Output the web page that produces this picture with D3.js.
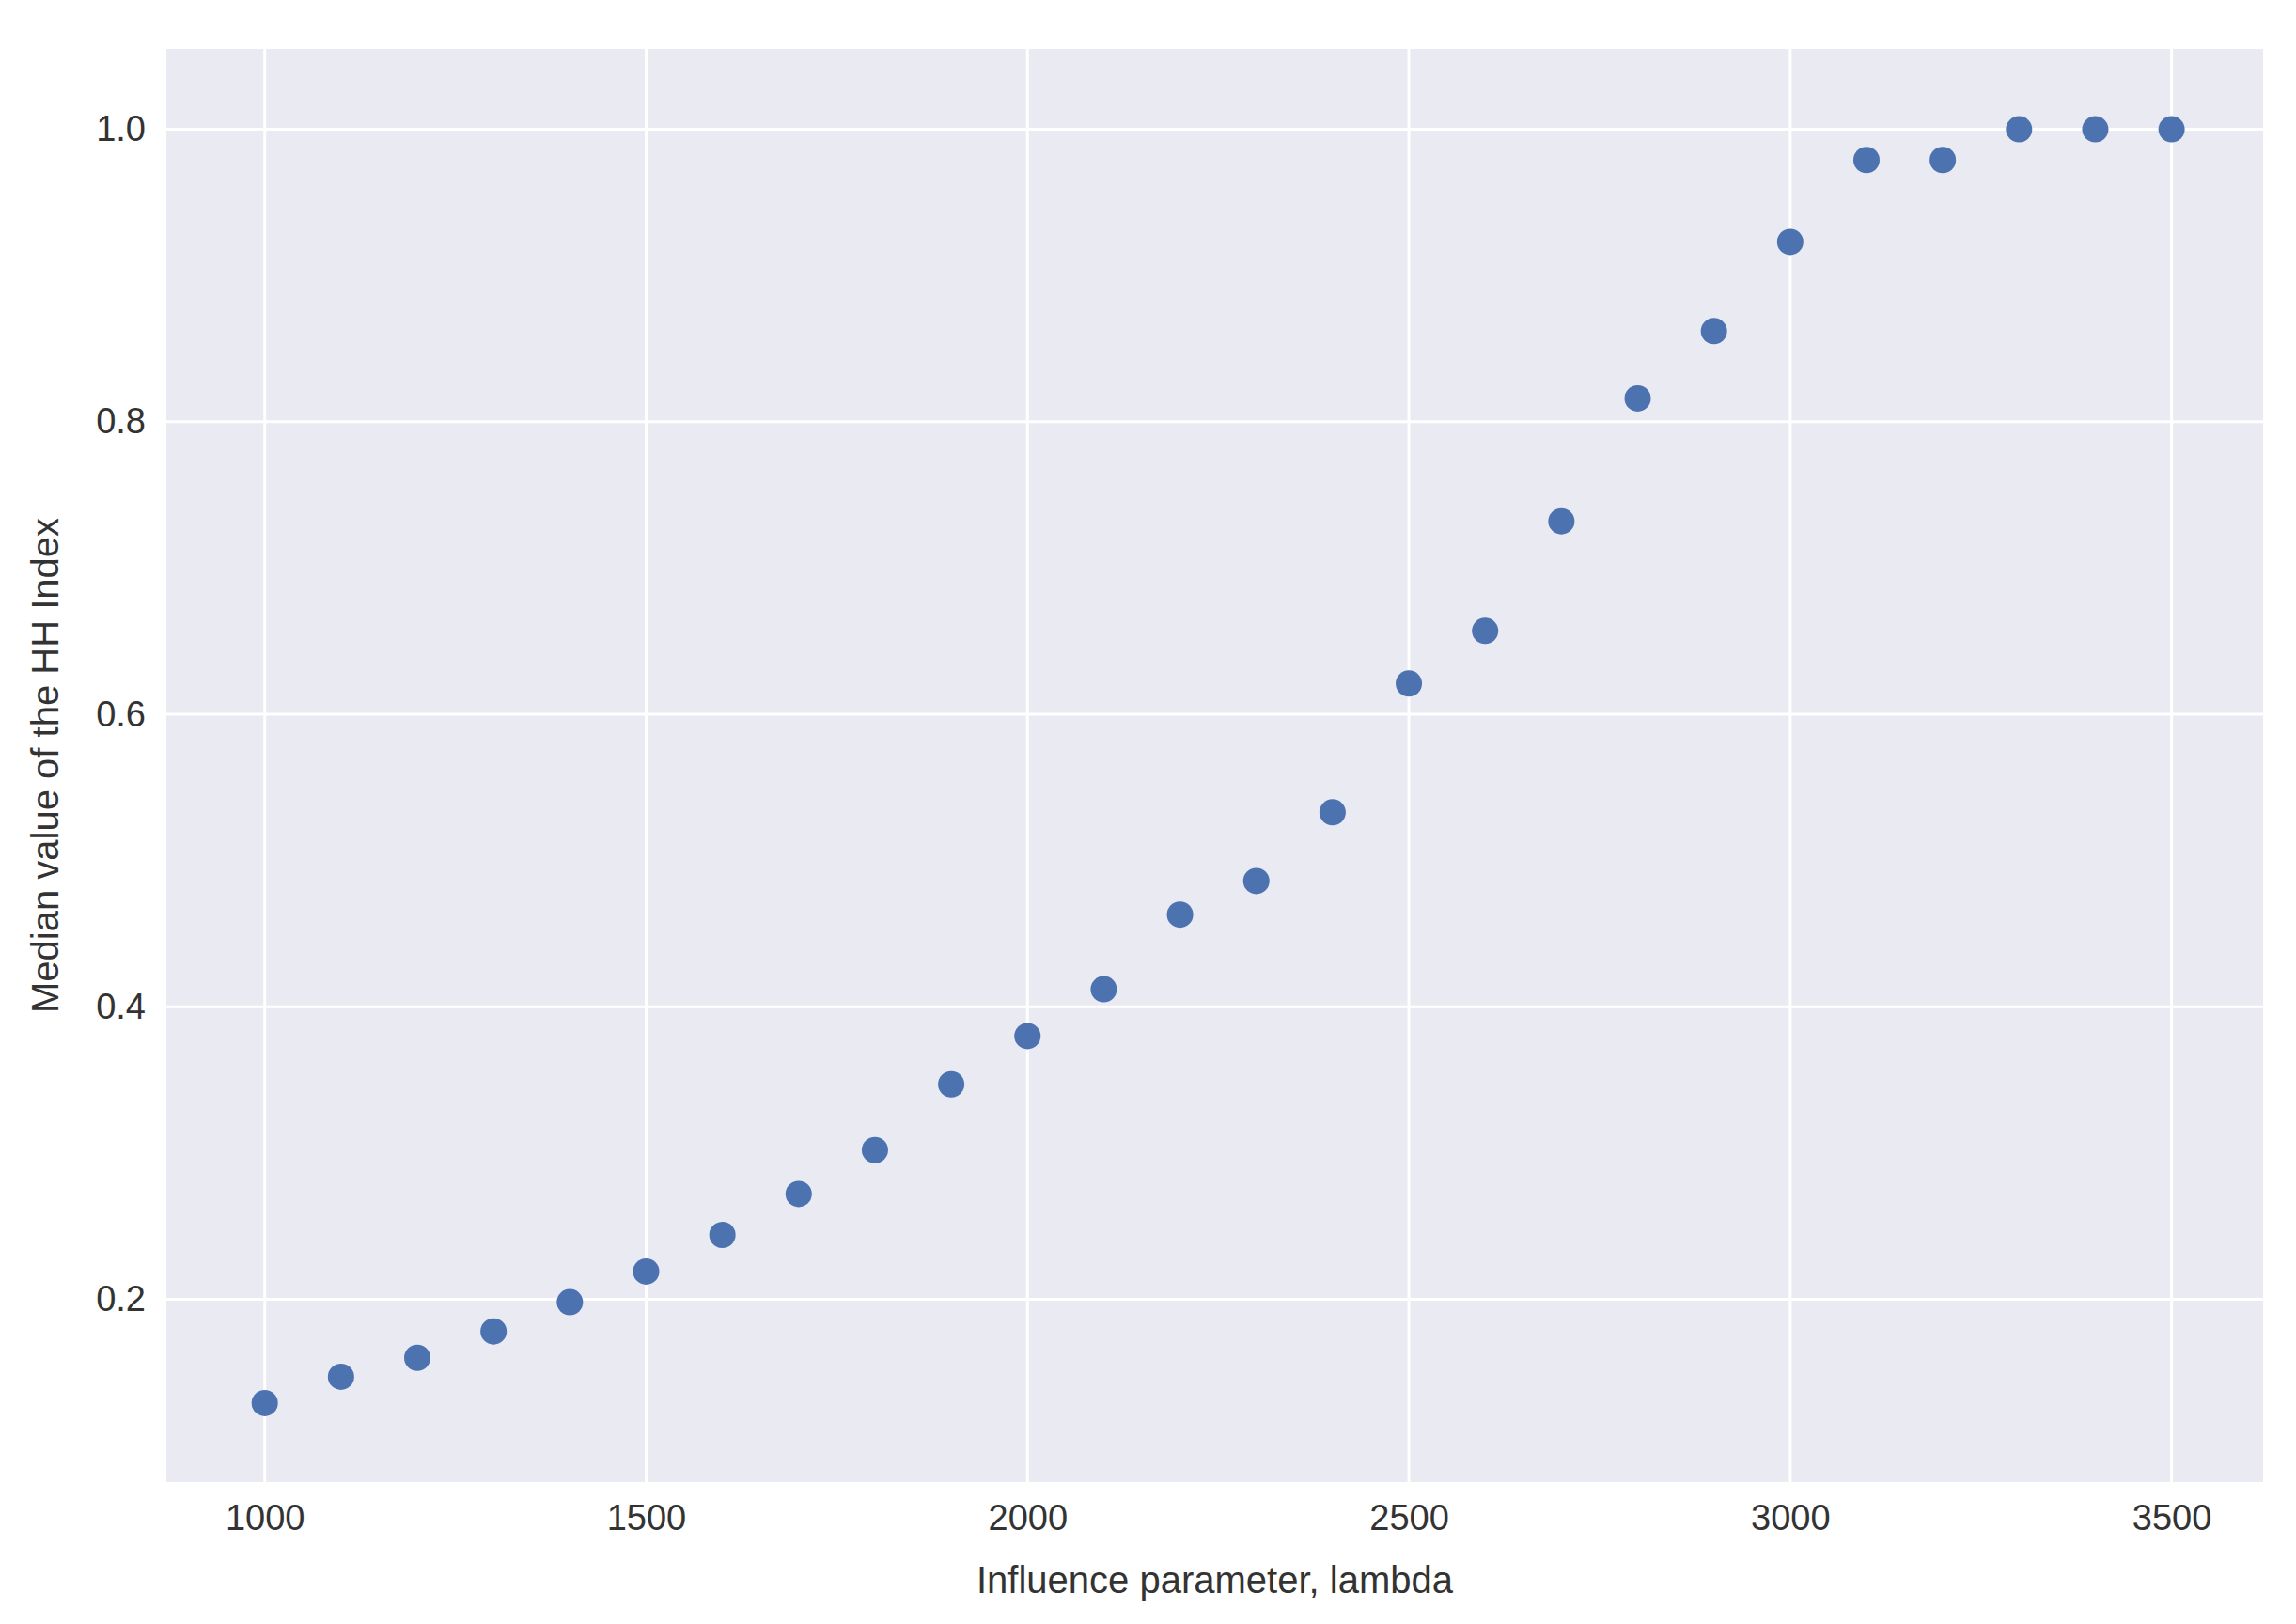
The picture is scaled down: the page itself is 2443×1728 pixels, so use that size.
<!DOCTYPE html>
<html>
<head>
<meta charset="utf-8">
<script src="https://cdn.jsdelivr.net/npm/d3@7"></script>
<style>
  body { margin: 0; background: #fff; }
  text { font-family: "Liberation Sans", Arial, sans-serif; fill: #333; }
</style>
</head>
<body>
<svg id="chart" width="2443" height="1728"></svg>
<script>
const lambdas = [1000, 1100, 1200, 1300, 1400, 1500, 1600, 1700, 1800, 1900, 2000, 2100, 2200,
  2300, 2400, 2500, 2600, 2700, 2800, 2900, 3000, 3100, 3200, 3300, 3400, 3500];
const hhMedian = [0.129, 0.147, 0.160, 0.178, 0.198, 0.219, 0.244, 0.272, 0.302, 0.347, 0.380, 0.412, 0.463,
  0.486, 0.533, 0.621, 0.657, 0.732, 0.816, 0.862, 0.923, 0.979, 0.979, 1.0, 1.0, 1.0];
const xTicks = [1000, 1500, 2000, 2500, 3000, 3500];
const yTicks = [0.2, 0.4, 0.6, 0.8, 1.0];

const svg = d3.select("#chart"),
    margin = {top: 52, right: 35, bottom: 151, left: 177},
    width = 2443 - margin.left - margin.right,
    height = 1728 - margin.top - margin.bottom;

const g = svg.append("g").attr("transform", `translate(${margin.left},${margin.top})`);

const x = d3.scaleLinear().domain([871, 3620]).range([0, width]);
const y = d3.scaleLinear().domain([0.075, 1.055]).range([height, 0]);

g.append("rect").attr("width", width).attr("height", height).attr("fill", "#eaeaf2");

// grid
g.selectAll(".vgrid").data(xTicks).enter().append("line")
    .attr("x1", d => x(d)).attr("x2", d => x(d))
    .attr("y1", 0).attr("y2", height)
    .attr("stroke", "#fff").attr("stroke-width", 3);
g.selectAll(".hgrid").data(yTicks).enter().append("line")
    .attr("y1", d => y(d)).attr("y2", d => y(d))
    .attr("x1", 0).attr("x2", width)
    .attr("stroke", "#fff").attr("stroke-width", 3);

// axes, ticks hidden
const xAxis = g.append("g").attr("transform", `translate(0,${height})`)
    .call(d3.axisBottom(x).tickValues(xTicks).tickSize(0).tickPadding(24).tickFormat(d3.format("d")));
const yAxis = g.append("g")
    .call(d3.axisLeft(y).tickValues(yTicks).tickSize(0).tickPadding(22).tickFormat(d3.format(".1f")));
[xAxis, yAxis].forEach(a => {
  a.select(".domain").remove();
  a.selectAll("text").attr("font-size", "38px").attr("fill", "#333")
    .attr("font-family", "Liberation Sans, Arial, sans-serif");
});

// points
g.selectAll("circle").data(lambdas).enter().append("circle")
    .attr("cx", d => x(d))
    .attr("cy", (d, i) => y(hhMedian[i]))
    .attr("r", 14)
    .attr("fill", "#4c72b0");

svg.append("text")
    .attr("x", margin.left + width / 2).attr("y", 1695)
    .attr("text-anchor", "middle").attr("font-size", "40px")
    .text("Influence parameter, lambda");

svg.append("text")
    .attr("transform", `translate(62,${margin.top + height / 2}) rotate(-90)`)
    .attr("text-anchor", "middle").attr("font-size", "40px")
    .text("Median value of the HH Index");
</script>
</body>
</html>
